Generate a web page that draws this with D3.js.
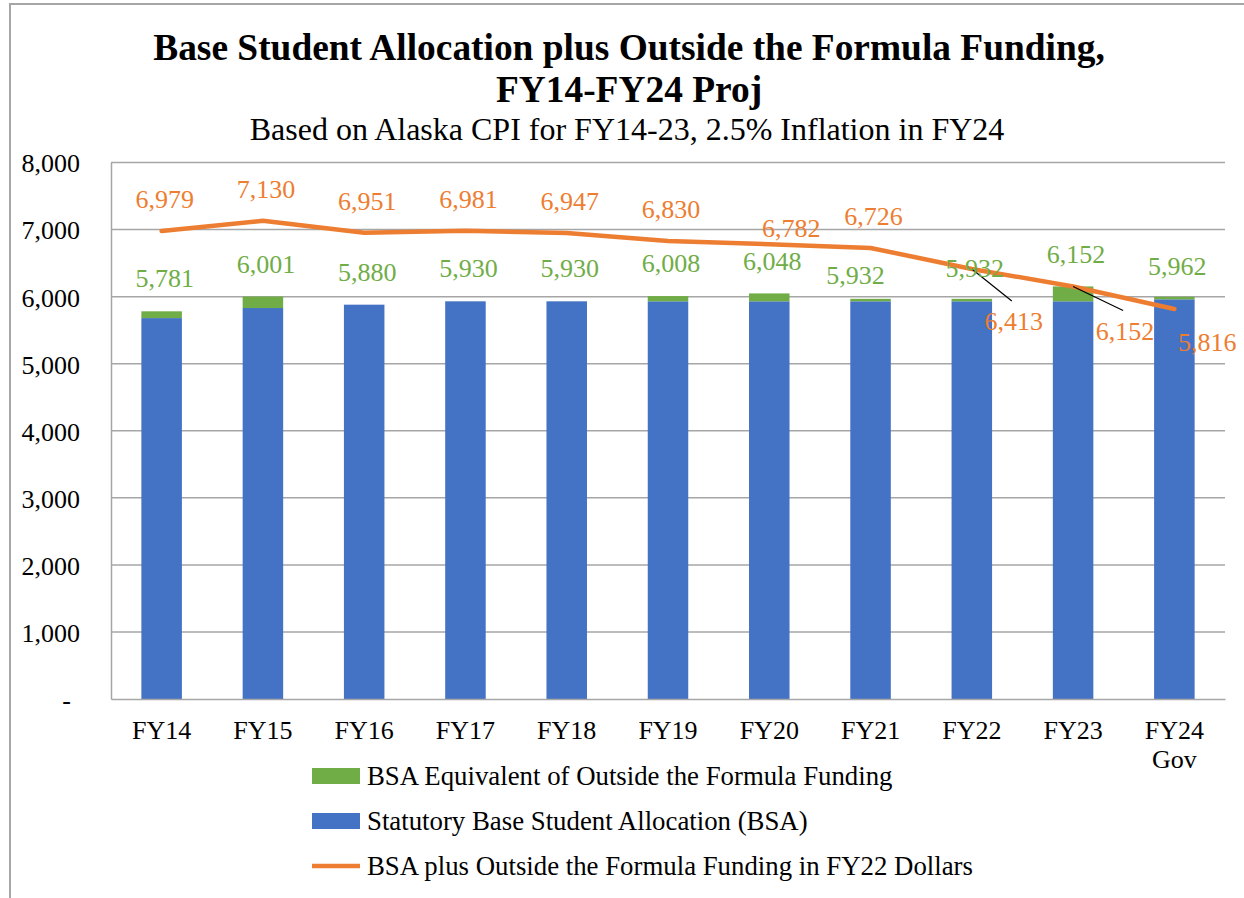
<!DOCTYPE html>
<html>
<head>
<meta charset="utf-8">
<script src="https://cdn.jsdelivr.net/npm/d3@7/dist/d3.min.js"></script>
<style>
  body {margin: 0; background: #fff;}
  svg text {font-family: "Liberation Serif", "Times New Roman", serif; fill: #000;}
</style>
</head>
<body>
<div id="chart"></div>
<script>
`use strict`;

// fiscal years on the x axis (second line of a label after the space)
const years = [`FY14`, `FY15`, `FY16`, `FY17`, `FY18`, `FY19`, `FY20`, `FY21`, `FY22`, `FY23`, `FY24 Gov`];

// statutory base student allocation, $ per student
const bsa = [5680, 5830, 5880, 5930, 5930, 5930, 5930, 5930, 5930, 5930, 5960];

// BSA equivalent of outside the formula funding
const outside = [101, 171, 0, 0, 0, 78, 118, 2, 2, 222, 2];

// BSA plus outside the formula funding in FY22 dollars
const realDollars = [6979, 7130, 6951, 6981, 6947, 6830, 6782, 6726, 6413, 6152, 5816];

const yTicks = [0, 1000, 2000, 3000, 4000, 5000, 6000, 7000, 8000];

const legendItems = [
  `BSA Equivalent of Outside the Formula Funding`,
  `Statutory Base Student Allocation (BSA)`,
  `BSA plus Outside the Formula Funding in FY22 Dollars`
];

(function () {

  const W = 1244, H = 898;

  const blue = `#4472c4`, green = `#70ad47`, orange = `#ed7d31`, grid = `#a6a6a6`;

  const plot = {left: 111, right: 1225, top: 162.5, bottom: 699};

  // hand placed labels, offsets from the point [dx, dy]
  const lineLabelMove = {6: [22, -16], 8: [42, 52], 9: [52, 44], 10: [33, 33]};
  const leaders = [8, 9];
  const barLabelMove = {7: [-15, -26]};

  const totals = bsa.map((v, i) => v + outside[i]);

  const svg = d3.select(`#chart`).append(`svg`)
    .attr(`width`, W)
    .attr(`height`, H);

  // chart area border
  svg.append(`rect`)
    .attr(`x`, 10).attr(`y`, 4)
    .attr(`width`, W + 20).attr(`height`, H + 20)
    .attr(`fill`, `#fff`)
    .attr(`stroke`, `#a6a6a6`)
    .attr(`stroke-width`, 2);

  let x = d3.scaleBand()
    .domain(years)
    .range([plot.left, plot.right])
    .paddingInner(0.6)
    .paddingOuter(0.3);

  let y = d3.scaleLinear()
    .domain([0, 8000])
    .range([plot.bottom, plot.top]);

  // gridlines
  svg.append(`g`)
    .selectAll(`line`).data(yTicks.filter(d => d > 0))
    .enter()
    .append(`line`)
    .attr(`x1`, plot.left).attr(`x2`, plot.right)
    .attr(`y1`, d => y(d)).attr(`y2`, d => y(d))
    .attr(`stroke`, grid)
    .attr(`stroke-width`, 1.5);

  // y axis
  let yAxis = svg.append(`g`)
    .attr(`transform`, `translate(${plot.left},0)`)
    .call(d3.axisLeft(y).tickValues(yTicks).tickSize(0).tickPadding(31)
      .tickFormat(d => d === 0 ? `-` : d3.format(`,`)(d)));

  yAxis.select(`.domain`).attr(`stroke`, grid).attr(`stroke-width`, 1.5);

  yAxis.selectAll(`text`)
    .style(`font-size`, `26px`)
    .attr(`dy`, `0.36em`)
    .attr(`dx`, d => d === 0 ? -9 : 0);

  // stacked bars
  let bars = svg.append(`g`);

  bars.selectAll(`rect.bsa`).data(bsa)
    .enter()
    .append(`rect`)
    .attr(`class`, `bsa`)
    .attr(`x`, (d, i) => x(years[i]))
    .attr(`width`, x.bandwidth())
    .attr(`y`, d => y(d))
    .attr(`height`, d => plot.bottom - y(d))
    .attr(`fill`, blue);

  outside.forEach((d, i) => {

    if (d <= 0) return;

    // tiny amounts still show as a thin strip
    let h = Math.max(2.5, y(bsa[i]) - y(totals[i]));

    bars.append(`rect`)
      .attr(`class`, `out`)
      .attr(`x`, x(years[i]))
      .attr(`width`, x.bandwidth())
      .attr(`y`, y(bsa[i]) - h)
      .attr(`height`, h)
      .attr(`fill`, green);
  });

  // x axis
  let xAxis = svg.append(`g`)
    .attr(`transform`, `translate(0,${plot.bottom})`)
    .call(d3.axisBottom(x).tickSize(0).tickFormat(``));

  xAxis.select(`.domain`).attr(`stroke`, grid).attr(`stroke-width`, 1.5);

  xAxis.selectAll(`.tick`).each(function (d) {

    let t = d3.select(this).append(`text`)
      .attr(`y`, 40)
      .attr(`text-anchor`, `middle`)
      .style(`font-size`, `26px`);

    d.split(` `).forEach((s, k) => {
      t.append(`tspan`)
        .attr(`x`, 0)
        .attr(`dy`, k ? 29 : 0)
        .text(s);
    });
  });

  // real dollars line
  let line = d3.line()
    .x((d, i) => x(years[i]) + x.bandwidth() / 2)
    .y(d => y(d));

  svg.append(`path`)
    .datum(realDollars)
    .attr(`d`, line)
    .attr(`fill`, `none`)
    .attr(`stroke`, orange)
    .attr(`stroke-width`, 4.5)
    .attr(`stroke-linejoin`, `round`)
    .attr(`stroke-linecap`, `round`);

  let fmt = d3.format(`,`);

  // leader lines
  leaders.forEach(i => {

    let px = x(years[i]) + x.bandwidth() / 2, py = y(realDollars[i]);
    let m = lineLabelMove[i];

    svg.append(`line`)
      .attr(`x1`, px).attr(`y1`, py)
      .attr(`x2`, px + m[0] - 2).attr(`y2`, py + m[1] - 20)
      .attr(`stroke`, `#000`)
      .attr(`stroke-width`, 1.2);
  });

  // bar total labels
  svg.append(`g`)
    .selectAll(`text`).data(totals)
    .enter()
    .append(`text`)
    .attr(`x`, (d, i) => x(years[i]) + x.bandwidth() / 2 + (barLabelMove[i] ? barLabelMove[i][0] : 3))
    .attr(`y`, (d, i) => y(d) + (barLabelMove[i] ? barLabelMove[i][1] : -33))
    .attr(`dy`, `0.35em`)
    .attr(`text-anchor`, `middle`)
    .style(`font-size`, `26px`)
    .style(`fill`, green)
    .text(d => fmt(d));

  // line labels
  svg.append(`g`)
    .selectAll(`text`).data(realDollars)
    .enter()
    .append(`text`)
    .attr(`x`, (d, i) => x(years[i]) + x.bandwidth() / 2 + (lineLabelMove[i] ? lineLabelMove[i][0] : 3))
    .attr(`y`, (d, i) => y(d) + (lineLabelMove[i] ? lineLabelMove[i][1] : -32))
    .attr(`dy`, `0.35em`)
    .attr(`text-anchor`, `middle`)
    .style(`font-size`, `26px`)
    .style(`fill`, orange)
    .text(d => fmt(d));

  // titles
  svg.append(`text`)
    .attr(`x`, 629).attr(`y`, 60)
    .attr(`text-anchor`, `middle`)
    .style(`font-size`, `37.4px`)
    .style(`font-weight`, `bold`)
    .text(`Base Student Allocation plus Outside the Formula Funding,`);

  svg.append(`text`)
    .attr(`x`, 629).attr(`y`, 102)
    .attr(`text-anchor`, `middle`)
    .style(`font-size`, `37.4px`)
    .style(`font-weight`, `bold`)
    .text(`FY14-FY24 Proj`);

  svg.append(`text`)
    .attr(`x`, 627).attr(`y`, 140)
    .attr(`text-anchor`, `middle`)
    .style(`font-size`, `32px`)
    .text(`Based on Alaska CPI for FY14-23, 2.5% Inflation in FY24`);

  // legend
  let legend = svg.append(`g`)
    .attr(`transform`, `translate(312,776)`);

  legendItems.forEach((s, i) => {

    let g = legend.append(`g`).attr(`transform`, `translate(0,${i * 45})`);

    if (i < 2) {
      g.append(`rect`)
        .attr(`x`, 0).attr(`y`, -8)
        .attr(`width`, 48).attr(`height`, 16)
        .attr(`fill`, i ? blue : green);
    } else {
      g.append(`line`)
        .attr(`x1`, 0).attr(`x2`, 48)
        .attr(`stroke`, orange)
        .attr(`stroke-width`, 4.5);
    }

    g.append(`text`)
      .attr(`x`, 55)
      .attr(`dy`, `0.35em`)
      .style(`font-size`, `26.8px`)
      .text(s);
  });

})();
</script>
</body>
</html>
